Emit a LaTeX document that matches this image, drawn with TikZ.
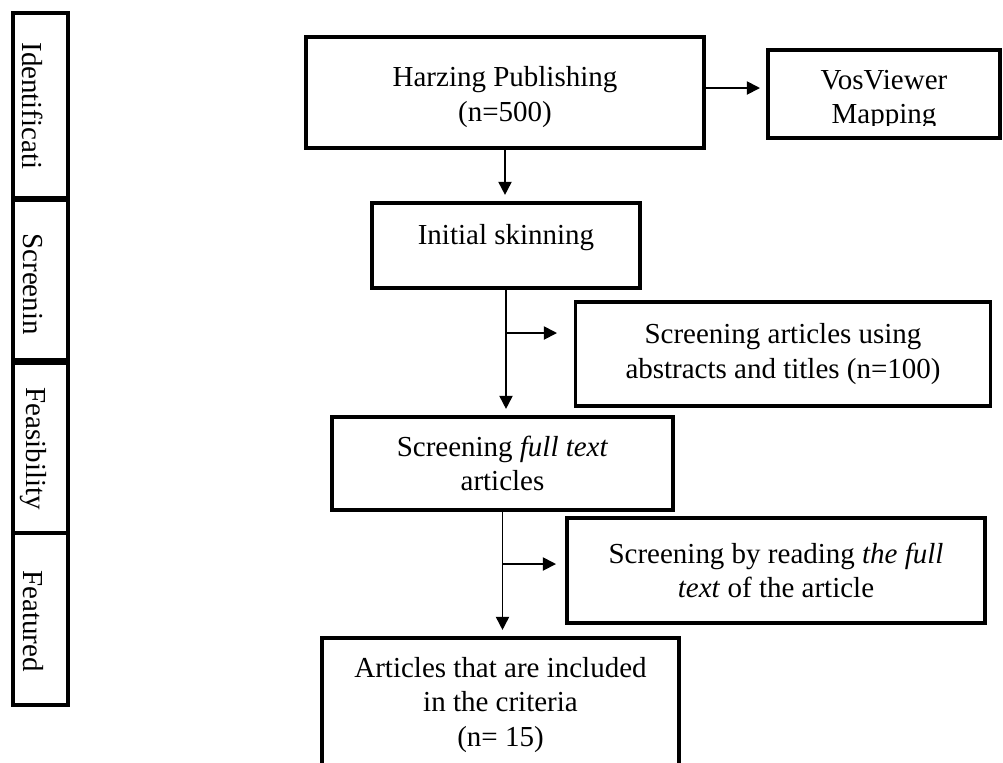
\documentclass[tikz,border=0pt]{standalone}
\usepackage{fontspec}
\setmainfont{Liberation Serif}
\usetikzlibrary{arrows.meta}
\tikzset{
  box/.style={draw, line width=2.2pt, align=center, inner sep=0pt, font=\fontsize{16.5}{19.5}\selectfont},
  boxtext/.style={align=center, inner sep=0pt, font=\fontsize{16.5}{19.5}\selectfont},
  stage/.style={draw, line width=2.2pt, minimum width=1.1cm, inner sep=0pt},
  stagetext/.style={rotate=-90, anchor=west, inner sep=0pt, font=\fontsize{16.5}{20}\selectfont},
  arr/.style={line width=1pt, -{Triangle[length=7.5pt, width=7.5pt]}},
  downarr/.style={arr, shorten >=3.5pt}
}
\begin{document}
\begin{tikzpicture}[x=0.02cm, y=-0.02cm]
  \clip (0,0) rectangle (1003,762);
  \node [stage, minimum height=3.7cm] (ident) at (40.5,105.5) {};
  \node [stagetext] (identtxt) at (33,42) {Identificati};
  \node [stage, minimum height=3.2cm] (screen) at (40.5,280) {};
  \node [stagetext] (screentxt) at (33,233) {Screenin};
  \node [stage, minimum height=3.4cm] (feas) at (40.5,448) {};
  \node [stagetext] (feastxt) at (33,387) {Feasibility};
  \node [stage, minimum height=3.44cm] (feat) at (40.5,619) {};
  \node [stagetext] (feattxt) at (33,570) {Featured};

  \node [box, minimum width=7.96cm, minimum height=2.22cm] (harz) at (505,92.5) {};
  \node [boxtext] (harztxt) at (505,97) {Harzing Publishing\\(n=500)};
  \node [box, minimum width=4.64cm, minimum height=1.76cm] (vos) at (884,94) {};
  \begin{scope}
    \clip (770,52) rectangle (1000,125);
    \node [boxtext] (vostxt) at (884,100) {VosViewer\\Mapping};
  \end{scope}
  \node [box, minimum width=5.36cm, minimum height=1.7cm] (init) at (506,245.5) {};
  \node [boxtext] (inittxt) at (506,238) {Initial skinning};
  \node [box, minimum width=8.3cm, minimum height=2.08cm] (abst) at (783,354) {Screening articles using\\abstracts and titles (n=100)};
  \node [box, minimum width=6.82cm, minimum height=1.86cm] (full) at (502.5,463.5) {Screening \textit{full text}\\articles};
  \node [box, minimum width=8.36cm, minimum height=2.1cm] (read) at (776,570.5) {Screening by reading \textit{the full}\\\textit{text} of the article};
  \node [box, minimum width=7.14cm, minimum height=2.68cm] (incl) at (500.5,705) {Articles that are included\\in the criteria\\(n= 15)};

  \coordinate (vosin) at (760,88);
  \draw [arr] (vosin -| harz.east) -- (vosin);
  \draw [downarr] (harz.south) -- (harz.south |- init.north);
  \draw [downarr] (init.south) -- (init.south |- full.north);
  \coordinate (split1) at (506,333);
  \coordinate (split1end) at (557,333);
  \draw [arr] (split1) -- (split1end);
  \draw [downarr] (full.south) -- (full.south |- incl.north);
  \coordinate (split2) at (502.5,564);
  \coordinate (split2end) at (556,564);
  \draw [arr] (split2) -- (split2end);
\end{tikzpicture}
\end{document}
